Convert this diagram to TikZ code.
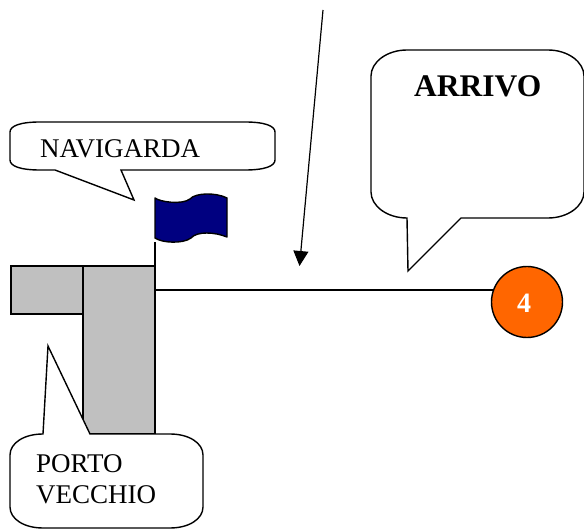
\documentclass[tikz,border=0pt]{standalone}
\usepackage{fontspec}
\setmainfont{Liberation Serif}
\definecolor{pier}{RGB}{192,192,192}
\definecolor{flagblue}{RGB}{0,0,128}
\definecolor{buoy}{RGB}{255,102,0}
\usetikzlibrary{arrows.meta}
\tikzset{
  ln/.style={draw=black,line width=1.4pt},
  callout/.style={ln,fill=white,line join=miter},
  pierbox/.style={ln,fill=pier,inner sep=0pt,outer sep=0pt,anchor=north west},
  lab/.style={font=\fontsize{27pt}{31pt}\selectfont,anchor=base west,inner sep=0pt,align=left},
}
\begin{document}
\begin{tikzpicture}[x=1pt,y=-1pt]
\useasboundingbox (0,0) rectangle (584,529);
% pier
\node[pierbox,minimum width=72pt,minimum height=48pt] (armA) at (11,266) {};
\node[pierbox,minimum width=72pt,minimum height=168pt] (armB) at (83,266) {};
% pole and flag
\coordinate (poleTop) at (155,242);
\draw[ln] (poleTop) -- (armB.north east);
\draw[ln,fill=flagblue,line join=round] (155,198)
  .. controls (160,202) and (182,205) .. (190,199)
  .. controls (195,193) and (215,192) .. (227,198)
  -- (227,237)
  .. controls (215,232) and (197,231) .. (191,238)
  .. controls (183,244) and (162,243) .. (155,238) -- cycle;
% buoy and line
\node[draw=black,line width=1.4pt,fill=buoy,circle,minimum size=71pt,inner sep=0pt,text=white,font=\fontsize{28pt}{32pt}\selectfont\bfseries] (buoyNode) at (527,302) {};
\node[text=white,font=\fontsize{28pt}{32pt}\selectfont\bfseries,inner sep=0pt,anchor=base] (buoyLabel) at (524,313) {4};
\coordinate (lineStart) at (155,290);
\draw[ln] (lineStart) -- (lineStart -| buoyNode.160);
% arrow
\coordinate (arrowStart) at (323,10);
\coordinate (arrowEnd) at (299.5,266);
\draw[line width=1.2pt,-{Triangle[length=15pt,width=15pt]}] (arrowStart) -- (arrowEnd);
% callouts
\draw[callout] (40,170)
  .. controls (20,170) and (10,166) .. (10,160) -- (10,132)
  .. controls (10,126) and (20,122) .. (40,122) -- (245,122)
  .. controls (265,122) and (275,126) .. (275,132) -- (275,160)
  .. controls (275,166) and (265,170) .. (245,170)
  -- (121,170) -- (134,200) -- (55,170) -- cycle;
\node[lab] (navLabel) at (40,158) {NAVIGARDA};
\draw[callout] (43,434) .. controls (24,434) and (10,443) .. (10,455) -- (10,507)
  .. controls (10,519) and (24,528) .. (43,528) -- (170,528)
  .. controls (189,528) and (203,519) .. (203,507) -- (203,455)
  .. controls (203,443) and (189,434) .. (170,434)
  -- (90,434) -- (48,346) -- cycle;
\node[lab] (portoLabel) at (36,472) {PORTO};
\node[lab] (vecchioLabel) at (36,503) {VECCHIO};
\draw[callout] (407,218) .. controls (387,218) and (371,206) .. (371,192) -- (371,76)
  .. controls (371,62) and (387,50) .. (407,50) -- (548,50)
  .. controls (568,50) and (584,62) .. (584,76) -- (584,192)
  .. controls (584,206) and (568,218) .. (548,218)
  -- (461,218) -- (408,271) -- cycle;
\node[lab,font=\fontsize{31.5pt}{36pt}\selectfont\bfseries] (arrivoLabel) at (414,96.5) {ARRIVO};
\end{tikzpicture}
\end{document}
